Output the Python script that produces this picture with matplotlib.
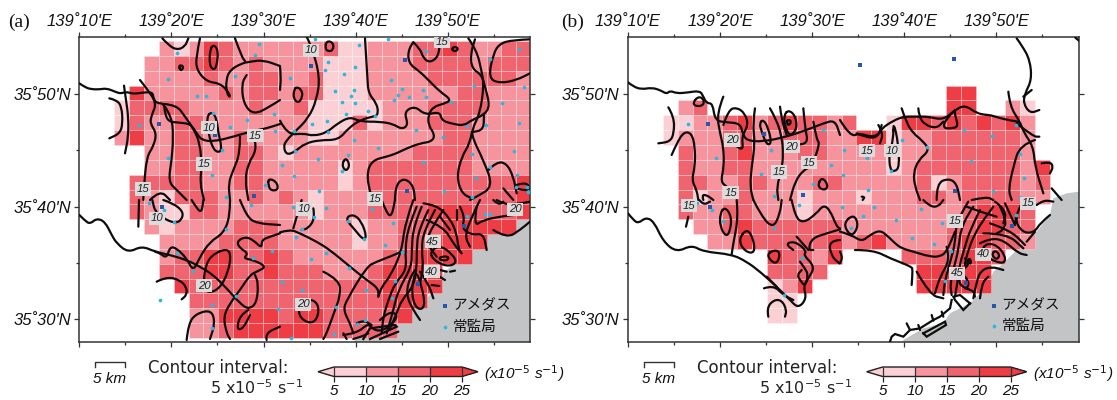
import matplotlib
matplotlib.use("Agg")
import matplotlib.pyplot as plt
import numpy as np
from matplotlib.colors import ListedColormap, BoundaryNorm
from matplotlib.cm import ScalarMappable
from matplotlib.collections import PolyCollection
from matplotlib.path import Path
from matplotlib.patches import PathPatch

plt.rcParams['mathtext.fontset'] = 'custom'
plt.rcParams['mathtext.rm'] = 'DejaVu Sans'
plt.rcParams['mathtext.it'] = 'Liberation Sans:italic'
plt.rcParams['font.family'] = ['Liberation Sans', 'DejaVu Sans']

# ---------- gridded shear classes (1: 5-10, 2: 10-15, 3: 15-20, 4: 20-25) ----------
CELLS_A = [
 "...2124322"+"2222311222"+"33432233",
 "..22334323"+"2222111222"+"33332333",
 "..22223223"+"3223111222"+"23333332",
 ".422222323"+"3233111222"+"22233222",
 "1333322223"+"2231111122"+"23333222",
 "1322332222"+"2221113122"+"23332222",
 "2422332232"+"2221122222"+"22332222",
 "..22332233"+"2122222222"+"33332222",
 "..22332233"+"2222212333"+"33332222",
 ".333332233"+"2222212333"+"33333334",
 ".321333223"+"2321222333"+"33333334",
 ".321133222"+"2221222333"+"34443334",
 "..21222233"+"3222221223"+"3344444.",
 "...2222333"+"3222221223"+"34444...",
 "...2334433"+"4322222233"+"4444....",
 "...3334433"+"4333222344"+"44......",
 "....433333"+"3333333343"+"44......",
 ".....33333"+"3333333344"+"4.......",
 ".....22444"+"4344333334"+"........",
 ".....22344"+"444433333."+"........",
]
CELLS_B = [
 "."*28, "."*28, "."*28,
 ".........."+".........4"+"4.......",
 ".23......."+".........4"+"4..21...",
 "1122342343"+"323..14434"+"34342...",
 "1222332233"+"3224412233"+"33332...",
 ".322342223"+"3222212233"+"33332...",
 ".322332222"+"2222212333"+"333324..",
 ".332233222"+"3322222312"+"333323..",
 ".312232221"+"2221222332"+"333322..",
 ".322332221"+"2222222222"+"34443...",
 "..22343333"+"3322222223"+"34433...",
 "...2243333"+"3423422223"+"44332...",
 ".......433"+"24....3333"+"443.....",
 ".......333"+"3......444"+"44......",
 ".......124"+".......444"+"44......",
 ".......11."+".........."+"........",
 ".......11."+".........."+"........",
 "."*28,
]
CLASS_VALUES = {'1': 7.5, '2': 12.5, '3': 17.5, '4': 22.5}

# ---------- digitised map features, one list per map sheet ----------
SEA = [(717,-25),(680,-20),(640,-5),(630,45),(590,95),(530,150),(490,190),(460,215),(440,260),(390,310),
       (330,340),(310,370),(250,385),(190,420),(190,430),(717,430)]

A_TL = [
 [(238,250),(255,262),(275,268),(300,268),(320,265),(345,275),(362,281),(378,275),(400,282),(425,278),(458,276),(460,295),(470,310),(492,310),(495,340),(505,365),(540,368),(572,372),(590,400),(605,420),(640,425),(700,410),(750,395),(800,385),(840,372)],
 [(372,257),(378,300),(385,350),(385,410),(375,460)],
 [(328,295),(350,300),(365,320),(368,370),(360,400),(328,415)],
 [(420,240),(440,265),(470,310),(455,345),(450,370),(470,400),(460,440),(440,470),(432,560),(430,600)],
 [(492,312),(530,315),(555,350),(580,385),(600,430),(605,500),(600,550),(612,600)],
 [(495,320),(515,350),(520,410),(515,480),(505,545),(530,570),(560,600)],
 [(487,115),(505,135),(530,150),(555,140),(565,115)],
 [(600,115),(588,170),(590,210),(620,245),(660,250),(685,275),(692,295),(680,280),(678,240),(690,210),(725,190),(750,185),(790,180),(840,198)],
 [(705,115),(725,170),(735,183)],
 [(840,300),(810,320),(760,345),(730,310),(725,250),(740,225)],
 [(640,133),(655,150),(650,200),(640,210),(628,195),(630,150),(640,133)],
 [(535,195),(552,198),(543,215),(535,195)],
 [(635,335),(650,355),(655,400),(665,440),(660,458),(640,450),(625,400),(620,350),(635,335)],
 [(720,410),(720,460),(700,510),(685,550),(690,600)],
 [(765,425),(770,450),(745,490),(735,540),(745,600)],
 [(805,535),(830,545),(835,570),(812,572),(805,555),(805,535)],
 [(450,600),(480,570),(510,600)],
]
A_TR = [
 [(80,110),(95,140),(120,230),(110,300),(85,355),(45,395),(20,420),(10,440),(20,465),(45,455),(75,430),(120,420),(175,420),(205,385),(240,360),(285,348)],
 [(255,115),(262,230),(265,280),(290,310),(295,340),(285,350)],
 [(0,362),(22,405),(70,400),(100,408),(140,398),(170,372),(210,350),(240,365),(300,365),(340,372),(365,388),(385,375),(372,335),(405,318),(435,345),(480,335),(485,362),(520,372),(552,377),(575,360),(612,345),(630,318),(615,260),(605,225),(575,205),(572,160),(585,118)],
 [(565,115),(590,150),(605,215),(612,255),(600,340),(575,390),(580,420),(610,480),(640,560),(590,590),(570,600)],
 [(575,395),(610,397),(612,345)],
 [(400,127),(385,145),(385,190),(420,215),(450,245),(480,275),(515,300),(490,312),(460,320),(445,345),(445,375),(465,405),(455,425),(420,430),(380,445),(350,460),(320,470),(280,480),(262,510),(265,560),(280,600)],
 [(400,127),(420,145),(430,175),(450,188),(475,170),(480,125)],
 [(515,143),(530,140),(535,150),(520,155),(515,143)],
 [(750,118),(700,120),(660,130),(640,160),(625,235),(660,250),(710,240),(750,220)],
 [(0,200),(3,230),(0,270)],
 [(50,260),(65,270),(68,290),(55,310),(40,295),(42,270),(50,260)],
 [(140,122),(160,128),(160,150),(145,155),(135,145),(140,122)],
 [(197,472),(210,495),(198,515),(185,495),(197,472)],
 [(575,400),(570,430),(545,470),(530,530),(545,580),(575,595)],
 [(625,510),(650,485),(680,490),(700,530),(710,580)],
 [(345,600),(345,560),(370,533),(400,555),(405,600)],
 [(670,565),(700,600)],
 [(710,555),(740,545),(750,570),(720,570),(705,560)],
]
A_BL = [
 [(238,45),(255,62),(270,72),(290,55),(315,65),(335,105),(350,130),(385,158),(425,138),(465,155),(510,165),(560,180),(600,200),(640,225),(680,265),(720,310),(745,328),(770,310),(775,250),(765,225)],
 [(470,245),(500,230),(540,240),(560,262),(560,285),(545,298)],
 [(415,80),(417,0)],
 [(490,0),(520,10),(550,35),(545,60),(525,70),(490,55),(465,35),(457,0)],
 [(690,0),(690,50),(670,100),(630,125),(600,170),(580,215),(560,175),(530,145),(510,140),(500,175),(480,160),(465,155)],
 [(575,0),(590,25),(605,38),(610,0)],
 [(720,0),(740,50),(770,70),(840,75)],
 [(680,145),(693,165),(685,215),(660,265),(625,280),(610,260),(615,200),(635,165),(680,145)],
 [(840,100),(810,110),(785,120),(785,145),(760,120),(735,110),(710,125),(720,145),(745,160),(730,175),(760,180),(800,200),(770,215),(750,225),(720,270),(690,310),(670,350),(680,400),(690,417)],
 [(745,330),(720,345),(710,390),(730,385),(750,345)],
 [(560,420),(565,370),(590,340),(635,330),(645,370),(630,417)],
 [(800,420),(795,400),(840,380)],
]
A_BR = [
 [(0,97),(30,88),(60,100),(110,125),(150,150),(210,200),(260,240),(295,265),(295,290)],
 [(40,85),(50,50),(65,0)],
 [(100,25),(105,55),(85,85),(65,90)],
 [(195,55),(220,42),(245,65),(260,110),(250,120),(225,90),(195,55)],
 [(305,0),(320,40),(335,50),(345,0)],
 [(85,295),(115,310),(115,350),(95,372),(60,355),(55,320),(85,295)],
 [(130,215),(180,240),(180,290),(165,330),(140,400),(130,417)],
 [(365,155),(330,170),(290,185),(260,200),(200,300),(190,330),(210,370),(220,400)],
 [(400,0),(375,70),(365,155),(330,230),(305,260),(295,290)],
 [(410,20),(385,80),(375,150),(380,210),(345,250),(325,300),(310,350),(305,400)],
 [(425,20),(400,80),(395,150),(395,200),(355,270),(340,330),(320,400)],
 [(445,30),(415,90),(410,150),(410,205),(400,260),(365,300),(350,340),(330,385)],
 [(465,30),(430,95),(425,150),(430,200),(420,250)],
 [(490,30),(450,90),(440,130),(470,170)],
 [(450,155),(480,135),(520,165),(530,190),(500,200),(460,180),(450,155)],
 [(475,172),(505,168),(505,180),(485,182),(475,172)],
 [(430,10),(470,15),(510,55),(530,100),(535,145),(545,160)],
 [(440,60),(490,80),(520,130),(540,155)],
 [(480,50),(510,90)],
 [(530,30),(530,60)],
 [(410,215),(425,260),(435,310),(425,330),(405,320),(395,280),(400,235),(410,215)],
 [(405,210),(385,240),(380,290),(400,330),(420,360)],
 [(420,215),(445,250),(460,295)],
 [(480,210),(500,215)],[(475,228),(495,240)],[(455,255),(478,258)],[(510,215),(525,212)],
 [(750,5),(700,15),(670,10),(650,0)],
 [(600,0),(570,60),(555,110),(570,140)],
 [(590,20),(580,80),(610,60),(660,50),(700,45)],
 [(540,20),(555,50),(545,85),(575,105),(610,100),(620,150)],
 [(640,0),(655,15),(670,5)],
 [(640,90),(680,115),(720,90),(750,65)],
 [(190,405),(230,400),(265,370),(275,385),(300,395),(335,375),(355,345),(330,335),(300,360)],
 [(190,400),(200,417)],
 [(230,370),(250,360),(275,375)],
 [(300,417),(355,395)],
 [(220,417),(245,410),(265,400)],
]
A_PIERS = [[(250,417),(270,385),(345,375),(350,380),(285,410),(270,417)]]
B_TL = [
 [(204,247),(220,260),(245,268),(275,263),(300,270),(320,282),(330,272),(350,280),(380,278),(420,272),(430,290),(440,310),(458,310),(465,362),(500,367),(540,370),(548,400),(560,422),(610,425),(680,410),(740,390),(790,370),(825,360),(840,405)],
 [(325,322),(342,350),(342,400),(330,425),(295,430)],
 [(335,465),(350,430),(372,395),(395,400),(405,440),(405,500),(395,540),(410,570),(415,600)],
 [(413,290),(430,295),(432,315),(410,320),(398,310),(413,290)],
 [(490,290),(470,340),(480,400),(490,440),(492,500),(482,545),(500,560)],
 [(490,375),(505,330),(530,322),(555,340),(565,375),(545,410),(550,450),(530,440),(510,420)],
 [(585,325),(578,370),(585,430),(575,500),(570,560),(580,600)],
 [(610,358),(625,385),(635,430),(620,435),(605,395),(598,370),(610,358)],
 [(630,325),(650,360),(665,410),(670,460),(665,510),(650,560),(655,600)],
 [(660,320),(665,360),(680,405)],
 [(685,330),(705,345),(712,385),(690,410),(675,380),(672,345),(685,330)],
 [(685,358),(695,365),(685,378),(680,365),(685,358)],
 [(730,325),(735,385),(745,430),(705,435),(680,430)],
 [(760,365),(770,420),(780,430),(755,500),(730,510),(705,545),(690,600)],
 [(785,530),(805,555),(795,572),(772,560),(785,530)],
 [(430,600),(425,585),(440,585),(460,600)],
]
B_TR = [
 [(0,360),(30,410),(60,400),(90,410),(115,405),(125,385),(160,362),(190,350),(230,350),(265,350),(310,360),(345,330),(375,315),(410,340),(440,345),(450,345),(500,360),(540,365),(540,378)],
 [(185,325),(200,370),(220,400),(245,420),(270,450),(235,480),(220,520),(225,560),(240,600)],
 [(235,325),(237,350),(255,375),(290,385),(310,365)],
 [(345,330),(315,360),(310,385),(335,385),(355,380),(345,345),(345,335)],
 [(50,400),(85,415),(115,410),(125,375)],
 [(115,375),(130,400),(120,430)],
 [(160,362),(175,430),(178,500),(165,515),(150,510),(147,460),(160,420),(160,362)],
 [(530,115),(545,135),(570,180),(575,240),(555,280),(550,310),(570,340),(598,330)],
 [(575,270),(550,290)],
 [(505,275),(510,320),(540,365),(550,395),(580,440),(585,500),(610,580)],
 [(530,370),(580,410),(598,410)],
 [(585,420),(540,435),(520,500),(505,570),(515,600)],
 [(605,490),(630,485),(640,500),(630,520)],
 [(635,565),(665,600)],
 [(290,600),(290,550),(325,535),(350,550),(360,600)],
 [(65,590),(75,590),(68,600)],
 [(395,600),(440,590),(460,600)],
 [(706,113),(717,122)],
]
B_BL = [
 [(204,40),(220,60),(235,70),(258,52),(282,65),(310,125),(350,157),(395,135),(430,155),(515,163),(560,185),(600,215),(650,260),(690,300),(715,325),(740,295),(730,260),(745,235),(765,200),(730,165),(740,155),(715,130),(690,125),(680,135),(700,150)],
 [(710,110),(745,150)],
 [(385,50),(378,80)],
 [(418,0),(430,15),(450,5)],
 [(495,20),(515,50),(510,95),(498,110),(480,80),(480,40),(495,20)],
 [(530,0),(535,50),(520,130),(515,163)],
 [(560,85),(580,115),(585,160),(555,155),(535,120),(560,85)],
 [(580,0),(605,50),(640,85),(660,40),(665,0)],
 [(695,0),(705,50),(730,70),(770,40),(790,15),(810,30),(830,80),(840,85)],
 [(640,150),(660,155),(655,185),(640,190),(620,165),(640,150)],
 [(840,88),(800,100),(755,115),(745,150),(760,150)],
 [(840,120),(805,122),(815,170),(838,190)],
 [(720,185),(735,205),(745,225),(735,260),(720,240),(712,225),(725,210)],
 [(620,230),(650,260)],
 [(612,265),(640,255),(670,285),(700,300)],
 [(625,350),(620,325),(640,300),(665,300),(680,330),(675,350)],
]
B_BR = [
 [(0,95),(35,105),(65,125),(90,105),(120,90),(145,110),(165,130),(185,145),(220,155),(270,170),(300,170),(320,155),(345,95)],
 [(45,150),(100,150),(150,175),(215,200),(218,210),(215,255)],
 [(230,215),(270,285),(310,295)],
 [(40,43),(55,70),(45,100),(28,105),(10,70),(40,43)],
 [(250,0),(270,20),(295,20),(310,0)],
 [(0,155),(8,170),(0,190)],
 [(320,140),(330,180),(300,230),(285,280)],
 [(385,5),(350,60),(345,130),(335,170),(315,240),(310,285)],
 [(400,20),(365,70),(355,150),(345,190),(330,250),(335,285)],
 [(420,30),(390,90),(375,140),(360,190),(355,230),(345,290)],
 [(460,20),(430,60),(405,100),(385,150),(375,190)],
 [(480,20),(500,60),(490,90),(470,100)],
 [(440,130),(470,135),(495,165),(495,190),(465,185),(440,170),(425,150),(440,130)],
 [(465,150),(480,165),(470,180),(455,165),(465,150)],
 [(420,130),(450,115),(490,120),(535,160),(560,165)],
 [(430,100),(500,100),(550,145)],
 [(450,70),(510,90),(555,135)],
 [(380,20),(420,35),(470,50)],
 [(465,5),(500,30),(490,70)],
 [(355,240),(365,220),(385,240),(385,265),(365,260),(355,240)],
 [(375,175),(395,200),(390,170),(375,195)],
 [(340,220),(375,210),(390,180)],
 [(400,295),(410,240),(425,210),(455,200),(490,210)],
 [(420,295),(425,250),(445,230)],
 [(375,265),(400,270),(405,290)],
 [(590,15),(610,0),(640,5)],
 [(630,45),(600,70),(585,95),(555,100),(530,75),(530,45)],
 [(550,0),(530,40),(525,70)],
 [(495,10),(525,75)],
 [(560,125),(585,95)],
 [(200,370),(210,390)],[(235,375),(240,390)],[(275,345),(280,362)],[(305,335),(310,350)],
]
B_PIERS = [
 [(390,310),(370,330),(345,300),(340,290),(360,285),(390,310)],
 [(335,300),(330,325),(300,350),(280,360),(240,385),(210,390),(190,410),(165,402),(155,410),(150,425)],
 [(250,400),(315,365),(318,375),(260,410),(250,400)],
]

A_LABELS = {'TL': [("10",628,383),("15",612,492),("15",765,407),("15",430,567)],
            'TR': [("10",92,151),("15",485,125),("15",285,597)],
            'BL': [("10",470,55),("20",612,257)],
            'BR': [("10",73,27),("20",705,28),("45",458,125),("40",455,215),("20",70,313)]}
B_LABELS = {'TL': [("20",516,420),("20",695,440),("15",657,516),("15",747,488),("15",512,578)],
            'TR': [("15",80,452),("10",155,452)],
            'BL': [("15",388,17)],
            'BR': [("15",345,63),("40",430,163),("45",352,220),("15",565,10)]}

A_CYAN = {'TL': [(530,160),(503,238),(590,287),(617,287),(638,338),(705,228),(690,380),(742,360),(822,342),(825,392),(777,132),(766,166),(417,374),(503,475),(636,525),(665,450),(795,555),(677,590)],
 'TR': [(105,118),(237,135),(325,118),(438,154),(717,146),(630,177),(143,185),(136,210),(225,202),(191,223),(31,235),(333,241),(581,259),(732,261),(165,274),(223,269),(367,266),(429,270),(355,285),(212,287),(343,299),(388,290),(439,290),(186,307),(225,309),(514,306),(665,309),(265,333),(197,341),(286,349),(140,363),(96,373),(42,392),(144,396),(407,391),(561,378),(617,375),(716,368),(221,421),(489,410),(293,444),(46,452),(204,464),(575,462),(702,452),(114,477),(428,486),(6,496),(42,527),(187,513),(630,500),(710,525),(587,535),(118,573),(491,574),(575,590),(708,560),(740,560),(744,577)],
 'BL': [(447,10),(491,30),(523,65),(677,87),(530,160),(578,213),(760,175),(815,152),(481,300),(707,287),(636,314),(636,383),(835,327),(752,15)],
 'BR': [(40,20),(103,50),(137,24),(203,62),(277,28),(340,70),(66,86),(47,112),(251,117),(315,134),(366,155),(138,158),(92,178),(208,205),(5,245),(65,270),(346,242),(257,270),(337,295),(169,320),(232,372),(255,360),(163,403),(33,415),(561,47),(614,43),(630,43)]}
A_BLUE = {'TL': [(478,373),(646,405),(762,587)], 'TR': [(93,197),(375,180),(380,574)],
          'BL': [(486,20)], 'BR': [(551,79),(413,252)]}
B_CYAN = {'TL': [(383,372),(467,473),(632,449),(603,523),(789,389),(812,495),(760,552),(643,589)],
 'TR': [(186,419),(260,442),(12,450),(80,475),(169,463),(153,512),(8,524),(84,571),(372,389),(455,408),(394,484),(527,376),(540,461),(553,533),(458,572),(540,590)],
 'BL': [(412,9),(457,29),(490,63),(643,85),(725,173),(673,286),(716,15)],
 'BR': [(5,20),(70,48),(103,22),(168,60),(243,27),(306,68),(32,85),(217,115),(282,132),(332,153),(315,242),(527,46)]}
B_BLUE = {'TL': [(444,372),(611,403),(728,585)], 'TR': [(59,196),(341,178),(346,572)],
          'BL': [(451,20)], 'BR': [(517,77),(379,250)]}

LON_TICKS = [10, 20, 30, 40, 50]
LON_MINOR = [15, 25, 35, 45, 55]
LAT_TICKS = [30, 40, 50]
LAT_MINOR = [35, 45]
CBAR_TICKS = [5, 10, 15, 20, 25]
STEP_COLORS = ['#FBD0D5', '#F6939C', '#F0646F', '#EE3D45']
UNDER_COLOR = '#FBD0D5'
OVER_COLOR = '#EE3D45'

W, H = 1117, 400
fig = plt.figure(figsize=(W/100, H/100), dpi=100)
PX_PER_LON, PX_PER_LAT = 9.21, 11.265
TOP, BOTTOM, WIDTH = 37.3, 342.3, 451.0

cmap = ListedColormap(STEP_COLORS).with_extremes(under=UNDER_COLOR, over=OVER_COLOR)
norm = BoundaryNorm(CBAR_TICKS, cmap.N)


def sheet_to_lonlat(points, sheet, left, offs):
    """digitised sheet coordinates -> degrees"""
    ox, oy = offs[sheet]
    pts = np.array(points, float)
    x = ox + pts[:, 0]/3
    y = oy + pts[:, 1]/3
    return 139 + (10 + (x-left)/PX_PER_LON)/60, 35 + (50 - (y-94)/PX_PER_LAT)/60


def rounded_path(x, y):
    """A path through the digitised vertices, drawn with quadratic corners."""
    p = np.column_stack([x, y])
    closed = len(p) > 3 and np.allclose(p[0], p[-1])
    if closed:
        p = p[:-1]
        mids = (p + np.roll(p, -1, axis=0))/2
        verts = [mids[-1]]
        codes = [Path.MOVETO]
        for i in range(len(p)):
            verts += [p[i], mids[i]]
            codes += [Path.CURVE3, Path.CURVE3]
        return Path(verts, codes)
    verts = [p[0]]
    codes = [Path.MOVETO]
    for i in range(1, len(p)-1):
        verts += [p[i], (p[i]+p[i+1])/2]
        codes += [Path.CURVE3, Path.CURVE3]
    verts.append(p[-1])
    codes.append(Path.LINETO)
    return Path(verts, codes)


def panel(left, cells, sheets, piers, labels, cyan, blue, tag, tag_x, offs, legend):
    ax = fig.add_axes([left/W, 1-BOTTOM/H, WIDTH/W, (BOTTOM-TOP)/H])
    ax.set_xlim(139+10/60, 139+(10+WIDTH/PX_PER_LON)/60)
    ax.set_ylim(35+(50-(BOTTOM-94)/PX_PER_LAT)/60, 35+(50+(94-TOP)/PX_PER_LAT)/60)
    ax.set_aspect('auto')

    sx, sy = sheet_to_lonlat(SEA, 'BR', 628.0, {'BR': (840, 200)})
    ax.fill(sx, sy, color='#C3C4C6', lw=0, zorder=1)

    vals = np.array([[CLASS_VALUES.get(c, np.nan) for c in row] for row in cells])
    lon_e = 139 + (10 + (34.7 + 14.9*np.arange(vals.shape[1]+1))/PX_PER_LON)/60
    lat_e = 35 + (50 + (94 - 41 - 14.85*np.arange(vals.shape[0]+1))/PX_PER_LAT)/60
    polys, cv = [], []
    for r, c in zip(*np.where(~np.isnan(vals))):
        polys.append([(lon_e[c], lat_e[r]), (lon_e[c+1], lat_e[r]), (lon_e[c+1], lat_e[r+1]), (lon_e[c], lat_e[r+1])])
        cv.append(vals[r, c])
    ax.add_collection(PolyCollection(polys, array=np.array(cv), cmap=cmap, norm=norm,
                                     edgecolors=(1, 1, 1, 0.4), linewidths=0.45, zorder=2))

    for sheet, lines in sheets.items():
        for ln in lines:
            x, y = sheet_to_lonlat(ln, sheet, left, offs)
            ax.add_patch(PathPatch(rounded_path(x, y), fc='none', ec='#0d0d0d', lw=1.6,
                                   capstyle='round', joinstyle='round', zorder=3))
    for ln in piers:
        x, y = sheet_to_lonlat(ln, 'BR', left, offs)
        ax.plot(x, y, color='#0d0d0d', lw=1.6, solid_joinstyle='miter', zorder=3)
    for sheet, pts in blue.items():
        x, y = sheet_to_lonlat(pts, sheet, left, offs)
        ax.scatter(x, y, s=9, marker='s', color='#2457AE', lw=0, zorder=4)
    for sheet, pts in cyan.items():
        x, y = sheet_to_lonlat(pts, sheet, left, offs)
        ax.scatter(x, y, s=7, marker='o', color='#28B8E0', lw=0, zorder=4)
    for sheet, items in labels.items():
        for txt, zx, zy in items:
            x, y = sheet_to_lonlat([(zx, zy)], sheet, left, offs)
            ax.text(x[0], y[0], txt, fontsize=8.2, style='italic', ha='center', va='center',
                    color='#222', zorder=5, clip_on=True,
                    bbox=dict(fc='#DCDCDC', ec='none', pad=1.2))

    ax.set_xticks([139+m/60 for m in LON_TICKS])
    ax.set_xticks([139+m/60 for m in LON_MINOR], minor=True)
    ax.set_xticklabels([f"139˚{m}'E" for m in LON_TICKS], fontsize=12, style='italic')
    ax.set_yticks([35+m/60 for m in LAT_TICKS])
    ax.set_yticks([35+m/60 for m in LAT_MINOR], minor=True)
    ax.set_yticklabels([f"35˚{m}'N" for m in LAT_TICKS], fontsize=12, style='italic')
    ax.tick_params(which='major', top=True, bottom=True, left=True, right=True, labeltop=True,
                   labelbottom=False, length=3.6, width=0.9, color='#333', pad=2.5, labelcolor='#111')
    ax.tick_params(which='minor', top=True, bottom=True, left=True, right=True, length=2,
                   width=0.9, color='#333')
    for s in ax.spines.values():
        s.set_linewidth(1.1)
        s.set_color('#333')

    fig.text(tag_x/W, 1-22/H, tag, fontsize=14, family='Liberation Serif', ha='left', va='center', color='#111')

    # station key, placed in the sea
    for (zx, zy, col, mk, s, txt, tx) in legend:
        x, y = sheet_to_lonlat([(zx, zy)], 'BR', left, offs)
        ax.scatter(x, y, s=s, marker=mk, color=col, lw=0, zorder=4)
        xt, yt = sheet_to_lonlat([(tx, zy)], 'BR', left, offs)
        ax.text(xt[0], yt[0], txt, family='Noto Sans CJK JP', fontsize=10.5, ha='left', va='center',
                color='#111', zorder=5)

    # scale bar, from panel-relative position
    bx0, bx1 = left+15.7, left+45.7
    fig.add_artist(plt.Line2D([bx0/W, bx0/W, bx1/W, bx1/W], [1-367/H, 1-362/H, 1-362/H, 1-367/H],
                              color='#333', lw=1))
    fig.text((bx0+bx1)/2/W, 1-379/H, "5 km", fontsize=11, style='italic', ha='center', va='center', color='#111')
    fig.text((left+139)/W, 1-368/H, "Contour interval:", family='DejaVu Sans', fontsize=12, ha='center',
             va='center', color='#222')
    fig.text((left+224)/W, 1-388/H, r"5 x10$^{\mathrm{-5}}$ s$^{\mathrm{-1}}$", family='DejaVu Sans',
             fontsize=11.5, ha='right', va='center', color='#222')

    cax = fig.add_axes([(left+238.7)/W, 1-376.5/H, 160/W, 9.5/H])
    cb = fig.colorbar(ScalarMappable(norm=norm, cmap=cmap), cax=cax, orientation='horizontal',
                      extend='both', extendfrac=0.125, drawedges=True, ticks=CBAR_TICKS)
    cb.outline.set_linewidth(1)
    cb.outline.set_edgecolor('#222')
    cb.dividers.set_linewidth(0.9)
    cb.dividers.set_color('#333')
    cb.ax.tick_params(length=3.6, width=0.9, color='#222', pad=1.5)
    cb.set_ticklabels([str(t) for t in CBAR_TICKS], fontsize=11, style='italic', color='#111')
    cb.ax.minorticks_off()
    fig.text((left+404.7)/W, 1-374/H, r"(x10$^{\mathit{-5}}$ s$^{\mathit{-1}}$)", fontsize=11, style='italic',
             ha='left', va='center', color='#111')


OFFS_A = {'TL': (0, 0), 'TR': (280, 0), 'BL': (0, 200), 'BR': (280, 200)}
OFFS_B = {'TL': (560, 0), 'TR': (840, 0), 'BL': (560, 200), 'BR': (840, 200)}

panel(79.3, CELLS_A, {'TL': A_TL, 'TR': A_TR, 'BL': A_BL, 'BR': A_BR}, A_PIERS, A_LABELS, A_CYAN, A_BLUE,
      '(a)', 8, OFFS_A,
      [(496, 318, '#2457AE', 's', 9, 'アメダス', 518), (496, 380, '#28B8E0', 'o', 7, '常監局', 518)])
panel(628.0, CELLS_B, {'TL': B_TL, 'TR': B_TR, 'BL': B_BL, 'BR': B_BR}, B_PIERS, B_LABELS, B_CYAN, B_BLUE,
      '(b)', 561, OFFS_B,
      [(462, 317, '#2457AE', 's', 9, 'アメダス', 484), (462, 378, '#28B8E0', 'o', 7, '常監局', 484)])

fig.savefig('out.png', dpi=100)
